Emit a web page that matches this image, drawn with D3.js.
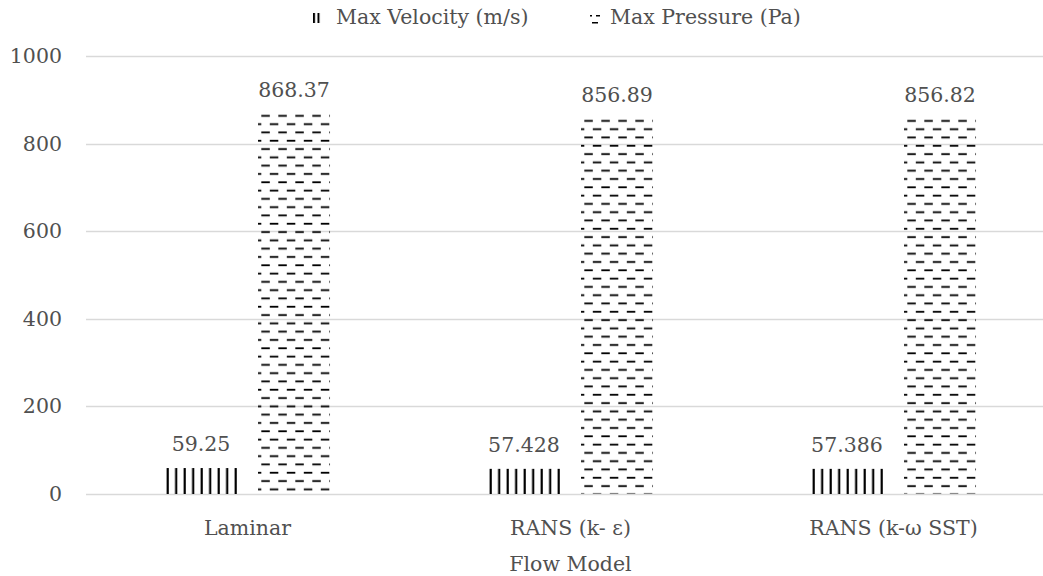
<!DOCTYPE html>
<html>
<head>
<meta charset="utf-8">
<script src="https://cdn.jsdelivr.net/npm/d3@7"></script>
<style>
  body { margin: 0; background: #ffffff; }
  svg { display: block; }
  text { font-family: "DejaVu Serif", serif; fill: #505050; }
</style>
</head>
<body>
<div id="flow_chart"></div>
<script>

//chart values
const models = ["Laminar", "RANS (k- \u03b5)", "RANS (k-\u03c9 SST)"];
const seriesNames = ["Max Velocity (m/s)", "Max Pressure (Pa)"];
const maxVelocity = [59.25, 57.428, 57.386];
const maxPressure = [868.37, 856.89, 856.82];
const velocityLabels = ["59.25", "57.428", "57.386"];
const pressureLabels = ["868.37", "856.89", "856.82"];
const yTicks = [0, 200, 400, 600, 800, 1000];

createChart();

function createChart() {

    const width = 1043;
    const height = 576;
    const margin = { top: 56, right: -12, bottom: 82, left: 86 };
    const fontSize = "20.5px";

    const svg = d3.select("#flow_chart")
        .append("svg")
        .attr("width", width)
        .attr("height", height);

    //build rows, one per model
    const rows = models.map(function(m, i) {
        return {
            model: m,
            values: [
                { series: 0, value: maxVelocity[i], label: velocityLabels[i] },
                { series: 1, value: maxPressure[i], label: pressureLabels[i] }
            ]
        };
    });

    //scales
    const xScale = d3.scaleBand()
        .domain(models)
        .range([margin.left, width - margin.right])
        .padding(0);

    const subScale = d3.scaleBand()
        .domain([0, 1])
        .range([0, xScale.bandwidth()])
        .paddingInner(0.226)
        .paddingOuter(0.849);

    const yScale = d3.scaleLinear()
        .domain([0, 1000])
        .range([height - margin.bottom, margin.top]);

    const defs = svg.append("defs");

    //vertical stripe pattern for velocity, lined up with first bar
    const stripeStep = 8.5;
    const velPattern = defs.append("pattern")
        .attr("id", "velPattern")
        .attr("patternUnits", "userSpaceOnUse")
        .attr("x", xScale(models[0]) + subScale(0))
        .attr("y", 0)
        .attr("width", stripeStep)
        .attr("height", 10);

    velPattern.append("rect")
        .attr("x", 0.6)
        .attr("y", 0)
        .attr("width", 2.2)
        .attr("height", 10)
        .attr("fill", "#000");

    //dashed pattern for pressure, one per bar so dashes start at the bar edge
    const dashStep = 17;
    const dashRow = 8.3;

    rows.forEach(function(r, i) {
        const bx = xScale(r.model) + subScale(1);
        const by = yScale(r.values[1].value);

        const p = defs.append("pattern")
            .attr("id", "presPattern" + i)
            .attr("patternUnits", "userSpaceOnUse")
            .attr("x", bx)
            .attr("y", by)
            .attr("width", dashStep)
            .attr("height", dashRow * 2);

        p.append("rect")
            .attr("x", 2.3)
            .attr("y", 1.3)
            .attr("width", 8.5)
            .attr("height", 1.8)
            .attr("fill", "#000");

        p.append("rect")
            .attr("x", 10.8)
            .attr("y", 1.3 + dashRow)
            .attr("width", 8.5)
            .attr("height", 1.8)
            .attr("fill", "#000");

        p.append("rect")
            .attr("x", -6.2)
            .attr("y", 1.3 + dashRow)
            .attr("width", 8.5)
            .attr("height", 1.8)
            .attr("fill", "#000");
    });

    //legend swatch pattern
    const legVel = defs.append("pattern")
        .attr("id", "legVel")
        .attr("patternUnits", "userSpaceOnUse")
        .attr("x", 313)
        .attr("y", 0)
        .attr("width", 4.5)
        .attr("height", 10);

    legVel.append("rect")
        .attr("x", 0)
        .attr("width", 2)
        .attr("height", 10)
        .attr("fill", "#000");

    //gridlines
    svg.append("g")
        .selectAll("line")
        .data(yTicks)
        .enter()
        .append("line")
        .attr("x1", margin.left)
        .attr("x2", width - margin.right)
        .attr("y1", function(d) { return Math.round(yScale(d)) + 0.5; })
        .attr("y2", function(d) { return Math.round(yScale(d)) + 0.5; })
        .attr("stroke", "#d9d9d9")
        .attr("stroke-width", 1.3);

    //y axis labels
    const yAxis = svg.append("g")
        .attr("transform", "translate(" + (margin.left - 24) + ",0)")
        .call(d3.axisLeft(yScale).tickValues(yTicks).tickFormat(d3.format("d")).tickSize(0).tickPadding(0));

    yAxis.select(".domain").remove();
    yAxis.selectAll("text")
        .attr("font-family", "DejaVu Serif")
        .attr("font-size", fontSize)
        .attr("fill", "#505050");

    //bars
    const groups = svg.selectAll(".model")
        .data(rows)
        .enter()
        .append("g")
        .attr("class", "model")
        .attr("transform", function(d) { return "translate(" + xScale(d.model) + ",0)"; });

    groups.selectAll("rect")
        .data(function(d, i) {
            return d.values.map(function(v) { return Object.assign({ idx: i }, v); });
        })
        .enter()
        .append("rect")
        .attr("x", function(d) { return subScale(d.series); })
        .attr("y", function(d) { return yScale(d.value); })
        .attr("width", subScale.bandwidth())
        .attr("height", function(d) { return yScale(0) - yScale(d.value); })
        .attr("fill", function(d) {
            return d.series === 0 ? "url(#velPattern)" : "url(#presPattern" + d.idx + ")";
        });

    //data labels
    groups.selectAll(".label")
        .data(function(d) { return d.values; })
        .enter()
        .append("text")
        .attr("class", "label")
        .attr("x", function(d) { return subScale(d.series) + subScale.bandwidth() / 2; })
        .attr("y", function(d) { return yScale(d.value) - 17; })
        .attr("text-anchor", "middle")
        .attr("font-size", fontSize)
        .text(function(d) { return d.label; });

    //x axis labels
    svg.append("g")
        .selectAll("text")
        .data(models)
        .enter()
        .append("text")
        .attr("x", function(d) { return xScale(d) + xScale.bandwidth() / 2; })
        .attr("y", 535)
        .attr("text-anchor", "middle")
        .attr("font-size", fontSize)
        .text(function(d) { return d; });

    //axis title
    svg.append("text")
        .attr("x", (margin.left + width - margin.right) / 2)
        .attr("y", 571)
        .attr("text-anchor", "middle")
        .attr("font-size", fontSize)
        .text("Flow Model");

    //legend
    const legendItems = [
        { name: seriesNames[0], x: 313 },
        { name: seriesNames[1], x: 587 }
    ];

    const legend = svg.append("g");

    legend.selectAll("text")
        .data(legendItems)
        .enter()
        .append("text")
        .attr("x", function(d) { return d.x + 23; })
        .attr("y", 24)
        .attr("font-size", fontSize)
        .text(function(d) { return d.name; });

    legend.append("rect")
        .attr("x", 313)
        .attr("y", 13)
        .attr("width", 9)
        .attr("height", 10)
        .attr("fill", "url(#legVel)");

    //pressure swatch, just a few dash bits
    const swatch = legend.append("g").attr("transform", "translate(590,13)");
    swatch.append("rect").attr("x", 0).attr("y", 2).attr("width", 2).attr("height", 1.5).attr("fill", "#000");
    swatch.append("rect").attr("x", 2).attr("y", 9).attr("width", 6).attr("height", 1.5).attr("fill", "#000");
    swatch.append("rect").attr("x", 6).attr("y", 2).attr("width", 4).attr("height", 1.5).attr("fill", "#000");
}

</script>
</body>
</html>
